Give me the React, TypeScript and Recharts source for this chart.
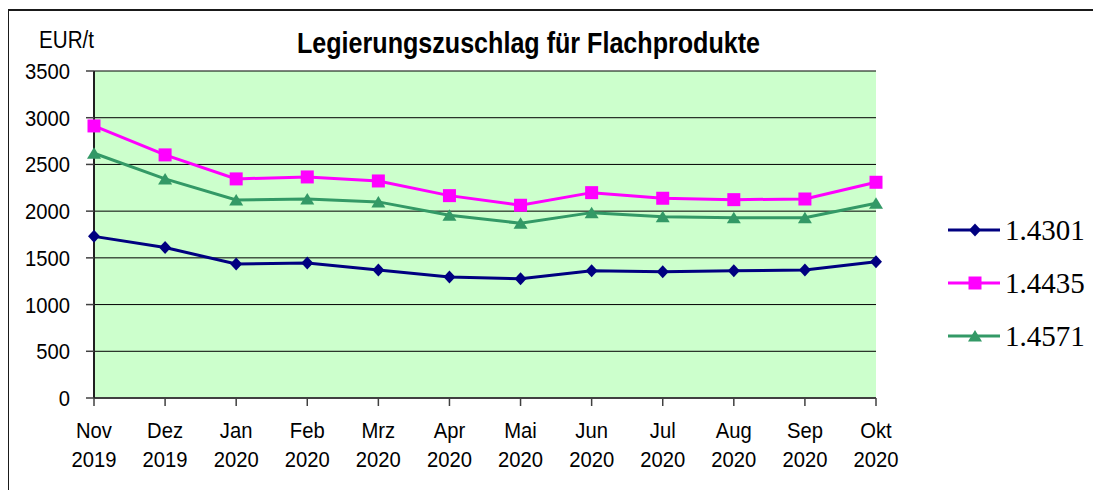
import React from 'react'
import {
  CartesianGrid,
  Legend,
  Line,
  LineChart,
  XAxis,
  YAxis,
} from 'recharts'

const months = ['Nov', 'Dez', 'Jan', 'Feb', 'Mrz', 'Apr', 'Mai', 'Jun', 'Jul', 'Aug', 'Sep', 'Okt']
const years = ['2019', '2019', '2020', '2020', '2020', '2020', '2020', '2020', '2020', '2020', '2020', '2020']

const s4301 = [1730, 1610, 1435, 1445, 1370, 1295, 1277, 1363, 1352, 1363, 1370, 1459]
const s4435 = [2912, 2602, 2345, 2366, 2323, 2166, 2063, 2198, 2138, 2123, 2130, 2309]
const s4571 = [2620, 2345, 2120, 2130, 2099, 1956, 1870, 1984, 1941, 1930, 1930, 2084]

const yTicks = [0, 500, 1000, 1500, 2000, 2500, 3000, 3500]

const title = 'Legierungszuschlag für Flachprodukte'
const unitLabel = 'EUR/t'

const series = [
  { key: '1.4301', values: s4301, color: '#000080', marker: 'diamond' },
  { key: '1.4435', values: s4435, color: '#FF00FF', marker: 'square' },
  { key: '1.4571', values: s4571, color: '#339966', marker: 'triangle' },
]

const data = months.map((m, i) => {
  const row: Record<string, string | number> = { label: `${m} ${years[i]}` }
  series.forEach((s) => {
    row[s.key] = s.values[i]
  })
  return row
})

const sansFont = "'Liberation Sans', Arial, sans-serif"

function Marker({ type, cx, cy, color }: { type: string; cx: number; cy: number; color: string }) {
  if (type === 'diamond') {
    return <path d={`M${cx},${cy - 6.5}L${cx + 6},${cy}L${cx},${cy + 6.5}L${cx - 6},${cy}Z`} fill={color} />
  }
  if (type === 'square') {
    return <rect x={cx - 6.5} y={cy - 6.5} width={13} height={13} fill={color} />
  }
  return <path d={`M${cx},${cy - 6}L${cx + 7},${cy + 5.5}L${cx - 7},${cy + 5.5}Z`} fill={color} />
}

function makeDot(type: string, color: string) {
  return (props: any) => {
    const { cx, cy, index } = props
    if (cx == null || cy == null) return <g key={`${type}-${index}`} />
    return (
      <g key={`${type}-${index}`}>
        <Marker type={type} cx={cx} cy={cy} color={color} />
      </g>
    )
  }
}

function YTick({ x, y, payload }: any) {
  return (
    <text
      transform={`translate(${x},${y}) scale(0.92,1)`}
      textAnchor='end'
      dy='0.36em'
      fontSize={22}
      fontFamily={sansFont}
      fill='#000'
    >
      {payload.value}
    </text>
  )
}

function XTick({ x, y, payload }: any) {
  const [m, yr] = String(payload.value).split(' ')
  return (
    <text
      transform={`translate(${x},${y}) scale(0.92,1)`}
      textAnchor='middle'
      fontSize={22}
      fontFamily={sansFont}
      fill='#000'
    >
      <tspan x={0} y={30}>{m}</tspan>
      <tspan x={0} y={59}>{yr}</tspan>
    </text>
  )
}

function LegendContent({ payload }: any) {
  return (
    <div>
      {(payload || []).map((entry: any) => {
        const s = series.find((it) => it.key === entry.dataKey) || series[0]
        return (
          <div
            key={s.key}
            style={{ display: 'flex', alignItems: 'center', height: 53 }}
          >
            <svg width={52} height={20} style={{ display: 'block' }}>
              <line x1={0} y1={10} x2={52} y2={10} stroke={s.color} strokeWidth={3} />
              <Marker type={s.marker} cx={27} cy={10} color={s.color} />
            </svg>
            <span
              style={{
                marginLeft: 5,
                fontFamily: "'Liberation Serif', 'DejaVu Serif', serif",
                fontSize: 29,
                lineHeight: '30px',
                color: '#000',
              }}
            >
              {s.key}
            </span>
          </div>
        )
      })}
    </div>
  )
}

export default function App() {
  return (
    <div style={{ position: 'relative', width: 1093, height: 482 }}>
      <div
        style={{
          position: 'absolute',
          left: -1,
          top: 1,
          width: 1094,
          height: 481,
          borderTop: '2px solid #1a1a1a',
          borderLeft: '2px solid #1a1a1a',
          boxSizing: 'border-box',
        }}
      />
      <LineChart
        width={1093}
        height={482}
        data={data}
        margin={{ top: 63, right: 225, bottom: 32, left: 0 }}
      >
        <CartesianGrid
          xAxisId='main'
          yAxisId='main'
          vertical={false}
          stroke='#000'
          strokeWidth={1}
          fill='#CCFFCC'
          fillOpacity={1}
        />
        <XAxis
          xAxisId='main'
          dataKey='label'
          height={60}
          interval={0}
          tickSize={8}
          tickMargin={2}
          tick={<XTick />}
          axisLine={{ stroke: '#404040', strokeWidth: 2 }}
          tickLine={{ stroke: '#404040', strokeWidth: 1.5 }}
        />
        <XAxis
          xAxisId='top'
          dataKey='label'
          orientation='top'
          height={0}
          tick={false}
          tickLine={false}
          axisLine={{ stroke: '#8a8a8a', strokeWidth: 2.5 }}
        />
        <YAxis
          yAxisId='main'
          width={86}
          domain={[0, 3500]}
          ticks={yTicks}
          interval={0}
          tickSize={8}
          tickMargin={16}
          tick={<YTick />}
          axisLine={{ stroke: '#202020', strokeWidth: 2 }}
          tickLine={{ stroke: '#404040', strokeWidth: 1.5 }}
        />
        <YAxis
          yAxisId='right'
          orientation='right'
          width={0}
          domain={[0, 3500]}
          tick={false}
          tickLine={false}
          axisLine={{ stroke: '#8a8a8a', strokeWidth: 2.5 }}
        />
        {series.map((s) => (
          <Line
            key={s.key}
            xAxisId='main'
            yAxisId='main'
            type='linear'
            dataKey={s.key}
            name={s.key}
            stroke={s.color}
            strokeWidth={3}
            dot={makeDot(s.marker, s.color)}
            activeDot={false}
            isAnimationActive={false}
          />
        ))}
        <Legend
          layout='vertical'
          align='center'
          verticalAlign='middle'
          content={<LegendContent />}
          wrapperStyle={{ left: 940, top: 195, width: 160 }}
        />
        <text
          x={289}
          y={45}
          fontSize={30}
          fontWeight='bold'
          fontFamily={sansFont}
          textLength={463}
          lengthAdjust='spacingAndGlyphs'
          fill='#000'
        >
          {title}
        </text>
        <text
          transform='translate(31,40) scale(0.86,1)'
          fontSize={24}
          fontFamily={sansFont}
          fill='#000'
        >
          {unitLabel}
        </text>
      </LineChart>
    </div>
  )
}
